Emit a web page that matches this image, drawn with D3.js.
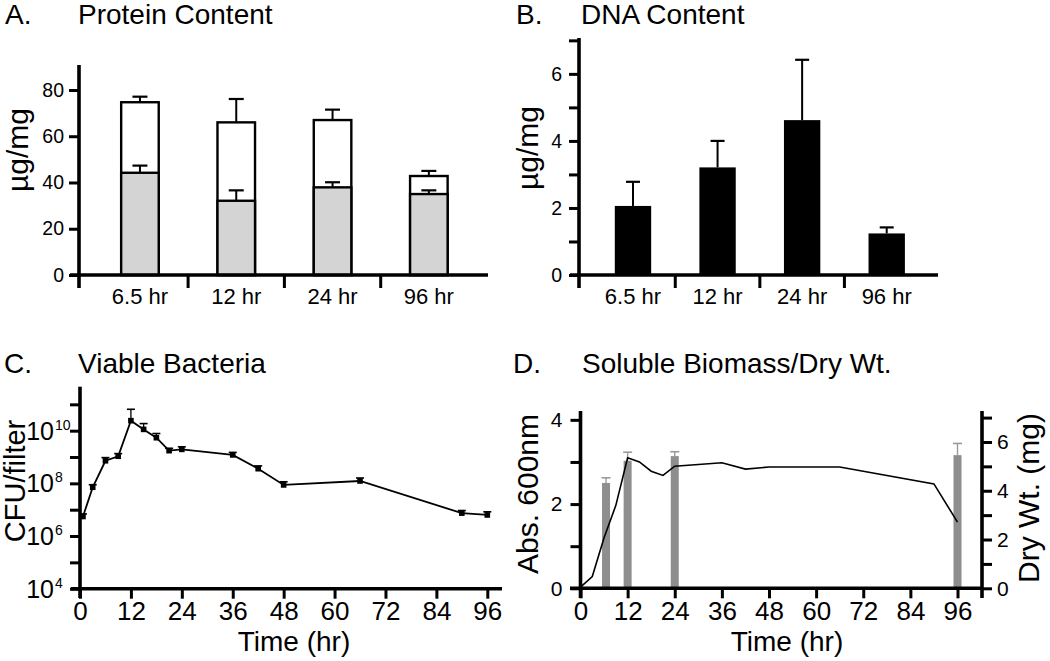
<!DOCTYPE html>
<html><head><meta charset="utf-8">
<script src="https://cdn.jsdelivr.net/npm/d3@7"></script>
<style>
body{margin:0;background:#fff}
svg{display:block}
text{font-family:"Liberation Sans",Arial,Helvetica,sans-serif;fill:#000}
</style>
</head><body>
<svg id="chart" width="1050" height="661"></svg>
<script>
// ---------- data ----------
const categories = ["6.5 hr", "12 hr", "24 hr", "96 hr"];
// A. Protein content (µg/mg): total (white) and soluble part (grey)
const proteinTotal = [74.7, 66.0, 67.0, 42.8];
const proteinTotalErr = [2.4, 10.1, 4.5, 2.2];
const proteinGrey = [44.2, 32.1, 37.9, 35.0];
const proteinGreyErr = [3.1, 4.5, 2.2, 1.6];
const proteinTicks = [0, 20, 40, 60, 80];
// B. DNA content (µg/mg)
const dna = [2.06, 3.21, 4.62, 1.24];
const dnaErr = [0.72, 0.79, 1.80, 0.18];
const dnaTicks = [0, 1, 2, 3, 4, 5, 6, 7];
// C. Viable bacteria (CFU/filter)
const cfuTime = [0.7, 3, 6, 9, 12, 15, 18, 21, 24, 36, 42, 48, 66, 90, 96];
const cfu = [5.5e6, 7.1e7, 7.2e8, 1.07e9, 2.4e10, 1.12e10, 5.4e9, 1.74e9, 1.95e9, 1.2e9, 3.6e8, 8.7e7, 1.23e8, 7.4e6, 6.3e6];
const cfuErrTop = [6.9e6, 8.9e7, 9.5e8, 1.35e9, 6.5e10, 1.86e10, 7.8e9, 2.14e9, 2.45e9, 1.5e9, 4.6e8, 1.15e8, 1.6e8, 9.3e6, 8.3e6];
const cfuTicks = [1e4, 1e5, 1e6, 1e7, 1e8, 1e9, 1e10, 1e11];
const cfuLabelExps = [4, 6, 8, 10];
const timeTicks = [0, 12, 24, 36, 48, 60, 72, 84, 96];
// D. Soluble biomass (Abs 600nm) and dry weight (mg)
const absTime = [0, 3, 6, 9, 12, 15, 18, 21, 24, 36, 42, 48, 66, 90, 96];
const absVal = [0.03, 0.28, 1.2, 1.97, 3.1, 3.0, 2.78, 2.68, 2.9, 2.98, 2.83, 2.88, 2.88, 2.48, 1.57];
const dryTime = [6.5, 12, 24, 96];
const dryWt = [4.32, 5.23, 5.42, 5.46];
const dryErr = [0.21, 0.35, 0.18, 0.48];
const absTicks = [0, 1, 2, 3, 4];
const dryTicks = [0, 1, 2, 3, 4, 5, 6, 7];

// ---------- helpers ----------
const svg = d3.select("#chart");
const AX = 3.6, TK = 3;

function line(g, x1, y1, x2, y2, w, c) {
  g.append("line").attr("x1", x1).attr("y1", y1).attr("x2", x2).attr("y2", y2)
    .attr("stroke", c || "#000").attr("stroke-width", w);
}
function label(g, x, y, s, size, anchor, rot) {
  const t = g.append("text").attr("font-size", size).attr("text-anchor", anchor || "start").text(s);
  t.attr("transform", `translate(${x},${y})` + (rot ? ` rotate(${rot})` : ""));
  return t;
}
function styleAxis(sel, size) {
  sel.select(".domain").remove();
  sel.selectAll(".tick line").attr("stroke", "#000").attr("stroke-width", TK);
  sel.selectAll(".tick text").attr("font-size", size).attr("fill", "#000")
    .attr("font-family", '"Liberation Sans",Arial,sans-serif');
}

// ---------- Panel A ----------
{
  const g = svg.append("g");
  const y = d3.scaleLinear().domain([0, 90.8]).range([275, 65]);
  const x = d3.scaleBand().domain(categories).range([91.8, 477]);
  const bw = x.bandwidth() * 0.39;
  const y0 = y(0);
  categories.forEach((c, i) => {
    const cx = x(c) + x.bandwidth() / 2;
    g.append("rect").attr("x", cx - bw / 2).attr("y", y(proteinTotal[i]))
      .attr("width", bw).attr("height", y0 - y(proteinTotal[i]))
      .attr("fill", "#fff").attr("stroke", "#000").attr("stroke-width", 2.4);
    g.append("rect").attr("x", cx - bw / 2).attr("y", y(proteinGrey[i]))
      .attr("width", bw).attr("height", y0 - y(proteinGrey[i]))
      .attr("fill", "#d4d4d4").attr("stroke", "#000").attr("stroke-width", 2.4);
    [[proteinTotal[i], proteinTotalErr[i]], [proteinGrey[i], proteinGreyErr[i]]].forEach(([v, e]) => {
      line(g, cx, y(v), cx, y(v + e), 2);
      line(g, cx - 7.5, y(v + e), cx + 7.5, y(v + e), 2.2);
    });
    label(g, cx, 304, c, 22, "middle");
  });
  categories.slice(1).forEach(c => line(g, x(c), y0, x(c), y0 + 13, TK));
  const ya = g.append("g").attr("transform", "translate(79,0)")
    .call(d3.axisLeft(y).tickValues(proteinTicks).tickSize(10).tickPadding(5));
  styleAxis(ya, 19.5);
  line(g, 79, 65, 79, 288, AX);
  line(g, 70, y0, 488, y0, AX);
  label(g, 5, 24, "A.", 28);
  label(g, 78, 24, "Protein Content", 28);
  label(g, 28, 150, "µg/mg", 30, "middle", -90);
}

// ---------- Panel B ----------
{
  const g = svg.append("g");
  const y = d3.scaleLinear().domain([0, 7.07]).range([275, 38]);
  const x = d3.scaleBand().domain(categories).range([590.7, 929]);
  const bw = x.bandwidth() * 0.43;
  const y0 = y(0);
  categories.forEach((c, i) => {
    const cx = x(c) + x.bandwidth() / 2;
    line(g, cx, y(dna[i]), cx, y(dna[i] + dnaErr[i]), 2);
    line(g, cx - 7, y(dna[i] + dnaErr[i]), cx + 7, y(dna[i] + dnaErr[i]), 2.2);
    g.append("rect").attr("x", cx - bw / 2).attr("y", y(dna[i]))
      .attr("width", bw).attr("height", y0 - y(dna[i])).attr("fill", "#000");
    label(g, cx, 304, c, 22, "middle");
  });
  categories.slice(1).forEach(c => line(g, x(c), y0, x(c), y0 + 13, TK));
  const ya = g.append("g").attr("transform", "translate(579,0)")
    .call(d3.axisLeft(y).tickValues(dnaTicks).tickSize(10).tickPadding(7)
      .tickFormat(d => d % 2 === 0 ? d : ""));
  styleAxis(ya, 19.5);
  line(g, 579, 38, 579, 288, AX);
  line(g, 570, y0, 938, y0, AX);
  label(g, 516, 24, "B.", 28);
  label(g, 581, 24, "DNA Content", 28);
  label(g, 538, 148, "µg/mg", 30, "middle", -90);
}

// ---------- Panel C ----------
{
  const g = svg.append("g");
  const x = d3.scaleLinear().domain([0, 96]).range([80, 487.3]);
  const y = d3.scaleLog().domain([1e4, Math.pow(10, 11.67)]).range([588.7, 386.7]);
  const y0 = 588.7;
  cfuTime.forEach((t, i) => {
    line(g, x(t), y(cfu[i]), x(t), y(cfuErrTop[i]), 1.3);
    line(g, x(t) - 4, y(cfuErrTop[i]), x(t) + 4, y(cfuErrTop[i]), 1.6);
  });
  g.append("path").datum(cfuTime.map((t, i) => [t, cfu[i]]))
    .attr("d", d3.line().x(d => x(d[0])).y(d => y(d[1])))
    .attr("fill", "none").attr("stroke", "#000").attr("stroke-width", 1.8);
  g.selectAll("rect.m").data(cfuTime).enter().append("rect")
    .attr("x", d => x(d) - 2.8).attr("y", (d, i) => y(cfu[i]) - 2.8)
    .attr("width", 5.6).attr("height", 5.6).attr("fill", "#000");
  const ya = g.append("g").attr("transform", "translate(80,0)")
    .call(d3.axisLeft(y).tickValues(cfuTicks).tickSize(10).tickFormat(""));
  styleAxis(ya, 20);
  cfuLabelExps.forEach(e => {
    const yy = y(Math.pow(10, e));
    label(g, 54, yy + 9, "10", 25, "end");
    label(g, 55, yy - 1, String(e), 14, "start");
  });
  const xa = g.append("g").attr("transform", `translate(0,${y0})`)
    .call(d3.axisBottom(x).tickValues(timeTicks).tickSize(10).tickPadding(3));
  styleAxis(xa, 26);
  line(g, 80, 386.7, 80, 598, AX);
  line(g, 71, y0, 502, y0, AX);
  label(g, 4, 373, "C.", 28);
  label(g, 78, 373, "Viable Bacteria", 28);
  label(g, 25, 481, "CFU/filter", 29, "middle", -90);
  label(g, 294, 651, "Time (hr)", 28, "middle");
}

// ---------- Panel D ----------
{
  const g = svg.append("g");
  const x = d3.scaleLinear().domain([0, 96]).range([580.5, 957.5]);
  const yL = d3.scaleLinear().domain([0, 4.21]).range([588.3, 411]);
  const yR = d3.scaleLinear().domain([0, 7.27]).range([588.3, 411]);
  const y0 = 588.3;
  dryTime.forEach((t, i) => {
    const top = yR(dryWt[i] + dryErr[i]);
    line(g, x(t), yR(dryWt[i]), x(t), top, 1.4, "#9a9a9a");
    line(g, x(t) - 4.5, top, x(t) + 4.5, top, 1.6, "#9a9a9a");
    g.append("rect").attr("x", x(t) - 4).attr("y", yR(dryWt[i]))
      .attr("width", 8).attr("height", y0 - yR(dryWt[i])).attr("fill", "#8e8e8e");
  });
  g.append("path").datum(absTime.map((t, i) => [t, absVal[i]]))
    .attr("d", d3.line().x(d => x(d[0])).y(d => yL(d[1])))
    .attr("fill", "none").attr("stroke", "#000").attr("stroke-width", 1.6);
  const yla = g.append("g").attr("transform", "translate(580.5,0)")
    .call(d3.axisLeft(yL).tickValues(absTicks).tickSize(10).tickPadding(8)
      .tickFormat(d => d % 2 === 0 ? d : ""));
  styleAxis(yla, 21);
  const yra = g.append("g").attr("transform", "translate(982,0)")
    .call(d3.axisRight(yR).tickValues(dryTicks).tickSize(10).tickPadding(5)
      .tickFormat(d => d % 2 === 0 ? d : ""));
  styleAxis(yra, 21);
  const xa = g.append("g").attr("transform", `translate(0,${y0})`)
    .call(d3.axisBottom(x).tickValues(timeTicks).tickSize(10).tickPadding(3));
  styleAxis(xa, 26);
  line(g, 580.5, 411, 580.5, 598, AX);
  line(g, 982, 411, 982, 598, AX);
  line(g, 570, y0, 982, y0, AX);
  label(g, 513, 373, "D.", 28);
  label(g, 582, 373, "Soluble Biomass/Dry Wt.", 28);
  label(g, 538, 494, "Abs. 600nm", 30, "middle", -90);
  label(g, 1039, 498, "Dry Wt. (mg)", 30, "middle", -90);
  label(g, 787, 651, "Time (hr)", 28, "middle");
}
</script>
</body></html>
